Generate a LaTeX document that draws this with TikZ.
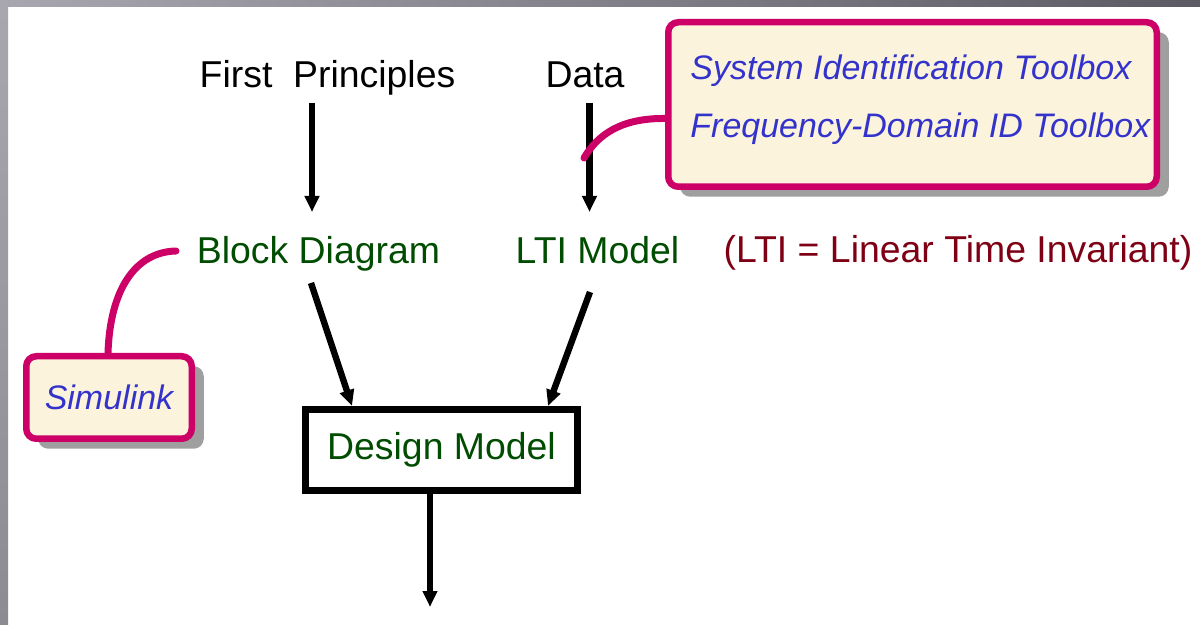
\documentclass[tikz,border=0pt]{standalone}
\usepackage{fontspec}
\setmainfont{Liberation Sans}
\usetikzlibrary{arrows.meta,shadows}
\definecolor{modelgreen}{HTML}{004C00}
\definecolor{notered}{HTML}{7F0014}
\definecolor{toolblue}{HTML}{3333CC}
\definecolor{pinpink}{HTML}{CC0066}
\definecolor{toolfill}{HTML}{FBF3DC}
\definecolor{frametop}{HTML}{A8A6AE}
\definecolor{frameend}{HTML}{5C5A62}
\definecolor{framelow}{HTML}{8C8A92}
\begin{document}
\begin{tikzpicture}[x=0.5pt,y=-0.5pt,
  txt/.style={inner sep=0pt, font=\fontsize{18.7}{22}\selectfont},
  model/.style={txt, text=modelgreen},
  flow/.style={line width=3.2pt, -{Triangle[length=8pt,width=7pt]}},
  tool/.style={draw=pinpink, line width=3.25pt, fill=toolfill, rounded corners=5pt,
    drop shadow={shadow xshift=6pt, shadow yshift=-5pt, fill=gray!75, opacity=1}},
  toolname/.style={inner sep=0pt, text=toolblue, font=\fontsize{17}{29}\selectfont\itshape},
  pin/.style={draw=pinpink, line width=3.5pt, line cap=round}]
\useasboundingbox (0,0) rectangle (1200,625);
\fill[white] (0,0) rectangle (1200,625);
\shade[left color=frametop, right color=frameend] (0,0) rectangle (1200,7);
\shade[top color=frametop, bottom color=framelow] (0,7) rectangle (8,625);

\node[txt, anchor=base] (fp) at (327.5,88) {First\ \ Principles};
\node[txt, anchor=base] (data) at (585,88) {Data};
\node[model, anchor=base] (blk) at (318.5,264) {Block Diagram};
\node[model, anchor=base] (lti) at (597.5,264) {LTI Model};
\node[txt, anchor=base, text=notered] (ltinote) at (958,263) {(LTI = Linear Time Invariant)};
\node[model, draw, line width=3.5pt, minimum width=136pt, minimum height=40.5pt] (dm) at (441.5,450) {Design Model};
\coordinate (out) at (430,607);

\node[tool, minimum width=244.25pt, minimum height=82.25pt] (sit) at (912.5,104.5) {};
\node[toolname, anchor=north west, align=left] (sittext) at (690,54) {System Identification Toolbox\\Frequency-Domain ID Toolbox};
\node[tool, toolname, minimum width=82.75pt, minimum height=41.25pt] (sim) at (109,397.5) {Simulink};
\coordinate (datapin) at (584,158);
\coordinate (blkpin) at (176,251);

\draw[flow] ([xshift=-7.75pt,yshift=-7.5pt]fp.base) -- ([xshift=-3.25pt,yshift=26pt]blk.base);
\draw[flow] ([xshift=2.25pt,yshift=-7.5pt]data.base) -- ([xshift=-4pt,yshift=26pt]lti.base);
\draw[flow] ([xshift=-3.75pt,yshift=-9.5pt]blk.base) -- ([xshift=-44.75pt]dm.north);
\draw[flow] ([xshift=-3.75pt,yshift=-14pt]lti.base) -- ([xshift=53.25pt]dm.north);
\draw[flow] ([xshift=-5.75pt]dm.south) -- (out);

\draw[pin] ([yshift=-7pt]sit.west) .. controls (622,118) and (598,134) .. (datapin);
\draw[pin] ([xshift=-0.5pt]sim.north) .. controls (110,290) and (135,252) .. (blkpin);
\end{tikzpicture}
\end{document}
